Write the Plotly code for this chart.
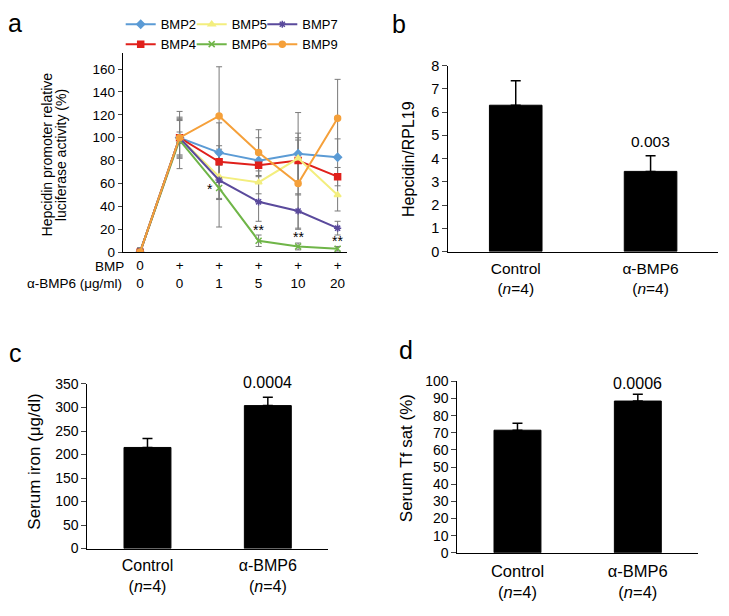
import plotly.graph_objects as go

W, H = 729, 616
FONT = "Arial, Liberation Sans, Helvetica, sans-serif"

def fx(px):
    return px / W

def fy(py):
    return 1 - py / H

# ---------------- Panel a data ----------------
conc_pos = [0, 1, 2, 3, 4, 5]
bmp_row = ["0", "+", "+", "+", "+", "+"]
abmp6_row = ["0", "0", "1", "5", "10", "20"]

series_names = ["BMP2", "BMP4", "BMP5", "BMP6", "BMP7", "BMP9"]
bmp2 = [0, 100, 87, 80, 86, 83]
bmp4 = [0, 100, 79, 76, 80, 66]
bmp5 = [0, 100, 66, 61, 82, 50]
bmp6 = [0, 98, 56, 10, 5, 3]
bmp7 = [0, 100, 63, 44, 36, 21]
bmp9 = [0, 100, 119, 87, 60, 117]

bmp2_err = [3, 17, 26, 20, 36, 16]
bmp4_err = [3, 15, 14, 10, 18, 8]
bmp5_err = [3, 18, 20, 10, 22, 14]
bmp6_err = [3, 25, 34, 5, 3, 2]
bmp7_err = [3, 5, 16, 17, 15, 6]
bmp9_err = [4, 16, 43, 20, 40, 34]

series_vals = [bmp2, bmp4, bmp5, bmp6, bmp7, bmp9]
series_errs = [bmp2_err, bmp4_err, bmp5_err, bmp6_err, bmp7_err, bmp9_err]
series_colors = ["#5b9bd5", "#e0201b", "#f3ee7e", "#6fb548", "#5a4a9c", "#f5a03a"]
series_symbols = ["diamond", "square", "triangle-up", "x-thin-open", "asterisk-open", "circle"]
legend_cols = ["legend", "legend", "legend2", "legend2", "legend3", "legend3"]

star_pos = [1.77, 3, 4, 5]
star_vals = [55, 19.6, 13.4, 9.7]
star_text = ["*", "**", "**", "**"]

# ---------------- Panels b, c, d data ----------------
groups = ["Control", "α-BMP6"]
group_labels = ["Control<br>(<i>n</i>=4)", "α-BMP6<br>(<i>n</i>=4)"]

hepc_vals = [6.3, 3.45]
hepc_err = [1.05, 0.67]
hepc_p = "0.003"

iron_vals = [215, 304]
iron_err = [19, 18]
iron_p = "0.0004"

tfsat_vals = [71.5, 88.5]
tfsat_err = [4, 4]
tfsat_p = "0.0006"

fig = go.Figure()

# Panel a error bars (grey, drawn under lines)
for name, vals, errs in zip(series_names, series_vals, series_errs):
    fig.add_trace(go.Scatter(
        x=conc_pos, y=vals, mode="markers",
        marker=dict(size=1, opacity=0),
        error_y=dict(type="data", array=errs, symmetric=True,
                     color="#7a7a7a", thickness=1, width=3),
        showlegend=False, hoverinfo="skip", xaxis="x", yaxis="y"))

# Panel a lines
for name, vals, col, sym, lg in zip(series_names, series_vals, series_colors,
                                    series_symbols, legend_cols):
    fig.add_trace(go.Scatter(
        x=conc_pos, y=vals, mode="lines+markers", name=name,
        line=dict(color=col, width=2),
        marker=dict(symbol=sym, size=6, color=col, line=dict(color=col, width=1.5)),
        legend=lg, xaxis="x", yaxis="y"))

# Bar panels
def add_bars(vals, errs, xa, ya):
    fig.add_trace(go.Bar(
        x=groups, y=vals, width=0.39,
        marker=dict(color="black", line=dict(color="black", width=1)),
        error_y=dict(type="data", array=errs, arrayminus=[0, 0], symmetric=False,
                     color="black", thickness=1.5, width=5),
        showlegend=False, xaxis=xa, yaxis=ya))

add_bars(hepc_vals, hepc_err, "x2", "y2")
add_bars(iron_vals, iron_err, "x3", "y3")
add_bars(tfsat_vals, tfsat_err, "x4", "y4")

axis_common = dict(showgrid=False, zeroline=False, showline=True,
                   linecolor="black", linewidth=1)

legend_common = dict(orientation="v", xanchor="left", y=fy(27), yanchor="middle",
                     font=dict(size=13), bgcolor="rgba(0,0,0,0)", itemwidth=30,
                     tracegroupgap=0, traceorder="normal")

layout = dict(
    width=W, height=H, margin=dict(l=0, r=0, t=0, b=0),
    paper_bgcolor="white", plot_bgcolor="white",
    font=dict(family=FONT, color="black"),
    # panel a
    xaxis=dict(domain=[fx(122.7), fx(346.7)], range=[-0.44, 5.23],
               tickvals=conc_pos,
               ticktext=[f"{b}<br>{a}" for b, a in zip(bmp_row, abmp6_row)],
               ticks="", tickfont=dict(size=13.5), ticklabelstandoff=1,
               anchor="y", **axis_common),
    yaxis=dict(domain=[fy(250.7), fy(46.7)], range=[0, 173.6],
               tickvals=list(range(0, 161, 20)), ticks="outside", ticklen=4,
               tickfont=dict(size=13.5), anchor="x", **axis_common),
    # panel b
    xaxis2=dict(domain=[fx(448.3), fx(718)], range=[-0.5, 1.5],
                tickvals=groups, ticktext=group_labels, ticks="",
                tickfont=dict(size=15.5), ticklabelstandoff=3,
                anchor="y2", **axis_common),
    yaxis2=dict(domain=[fy(250), fy(59.3)], range=[0, 8], dtick=1,
                ticks="outside", ticklen=5, tickfont=dict(size=14.5),
                anchor="x2", **axis_common),
    # panel c
    xaxis3=dict(domain=[fx(87.3), fx(328)], range=[-0.5, 1.5],
                tickvals=groups, ticktext=group_labels, ticks="",
                tickfont=dict(size=16), ticklabelstandoff=2,
                anchor="y3", **axis_common),
    yaxis3=dict(domain=[fy(555), fy(386)], range=[0, 350], dtick=50,
                ticks="outside", ticklen=5, tickfont=dict(size=14),
                anchor="x3", **axis_common),
    # panel d
    xaxis4=dict(domain=[fx(457.3), fx(698)], range=[-0.5, 1.5],
                tickvals=groups, ticktext=group_labels, ticks="",
                tickfont=dict(size=16.5), ticklabelstandoff=3,
                anchor="y4", **axis_common),
    yaxis4=dict(domain=[fy(559.3), fy(383.3)], range=[0, 100], dtick=10,
                ticks="outside", ticklen=5, tickfont=dict(size=14),
                anchor="x4", **axis_common),
    legend=dict(x=fx(120.7), **legend_common),
    legend2=dict(x=fx(191.7), **legend_common),
    legend3=dict(x=fx(262.3), **legend_common),
)

annotations = []
# panel letters
for letter, px, py in [("a", 15, 15), ("b", 399, 16), ("c", 16, 354), ("d", 406, 351)]:
    annotations.append(dict(text=letter, x=fx(px), y=fy(py), xref="paper", yref="paper",
                            xanchor="center", yanchor="middle", showarrow=False,
                            font=dict(size=25)))
# panel a y-title lines
annotations.append(dict(text="Hepcidin promoter relative", x=fx(46.5), y=fy(150.8),
                        xref="paper", yref="paper", textangle=-90, showarrow=False,
                        xanchor="center", yanchor="middle", font=dict(size=14)))
annotations.append(dict(text="luciferase activity (%)", x=fx(61.3), y=fy(150.8),
                        xref="paper", yref="paper", textangle=-90, showarrow=False,
                        xanchor="center", yanchor="middle", font=dict(size=14)))
# panel a row labels
annotations.append(dict(text="BMP", x=fx(126), y=fy(265), xref="paper", yref="paper",
                        xanchor="right", yanchor="middle", showarrow=False,
                        font=dict(size=13.5)))
annotations.append(dict(text="α-BMP6 (μg/ml)", x=fx(124), y=fy(283), xref="paper",
                        yref="paper", xanchor="right", yanchor="middle", showarrow=False,
                        font=dict(size=13.5)))
# stars
for sx, sy, st in zip(star_pos, star_vals, star_text):
    annotations.append(dict(text=st, x=sx, y=sy, xref="x", yref="y", showarrow=False,
                            xanchor="center", yanchor="middle", font=dict(size=14)))
# bar y titles
annotations.append(dict(text="Hepcidin/RPL19", x=fx(409), y=fy(155), xref="paper",
                        yref="paper", textangle=-90, showarrow=False,
                        xanchor="center", yanchor="middle", font=dict(size=16)))
annotations.append(dict(text="Serum iron (μg/dl)", x=fx(35), y=fy(465.8), xref="paper",
                        yref="paper", textangle=-90, showarrow=False,
                        xanchor="center", yanchor="middle", font=dict(size=17)))
annotations.append(dict(text="Serum Tf sat (%)", x=fx(406.7), y=fy(462.5), xref="paper",
                        yref="paper", textangle=-90, showarrow=False,
                        xanchor="center", yanchor="middle", font=dict(size=17)))
# p-values
annotations.append(dict(text=hepc_p, x=groups[1], y=4.74, xref="x2", yref="y2",
                        showarrow=False, xanchor="center", yanchor="middle",
                        font=dict(size=15.5)))
annotations.append(dict(text=iron_p, x=groups[1], y=345, xref="x3", yref="y3",
                        showarrow=False, xanchor="center", yanchor="middle",
                        yshift=3.4, font=dict(size=16)))
annotations.append(dict(text=tfsat_p, x=groups[1], y=98.5, xref="x4", yref="y4",
                        showarrow=False, xanchor="center", yanchor="middle",
                        font=dict(size=16)))

layout["annotations"] = annotations
fig.update_layout(**layout)
fig.write_html("out.html", config={"displayModeBar": False},
               post_script="document.body.style.margin='0px';")
